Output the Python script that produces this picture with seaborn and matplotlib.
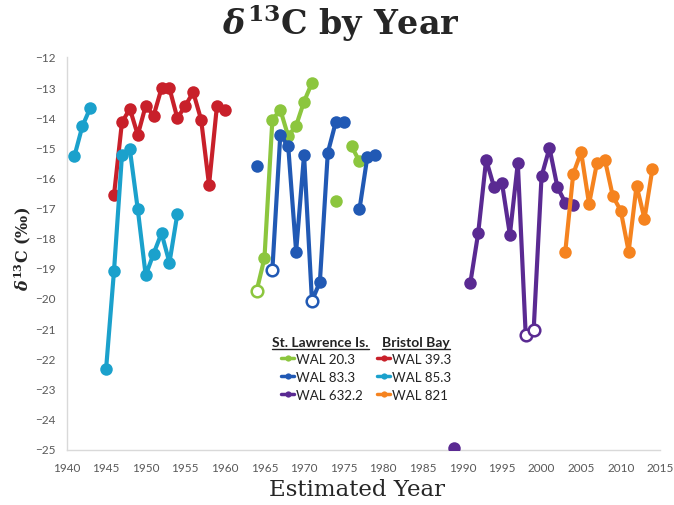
import numpy as np
import pandas as pd
import seaborn as sns
import matplotlib.pyplot as plt
from matplotlib.lines import Line2D

sns.set_theme(style="white")
plt.rcParams['font.family'] = ['Lato', 'DejaVu Sans']
plt.rcParams['mathtext.fontset'] = 'custom'
plt.rcParams['mathtext.rm'] = 'DejaVu Serif:bold'
plt.rcParams['mathtext.it'] = 'DejaVu Serif:italic:bold'
plt.rcParams['mathtext.bf'] = 'DejaVu Serif:bold'

nan = np.nan

# St. Lawrence Is.
YEARS_20_3 = list(range(1964, 1978))
D13C_20_3 = [-19.78, -18.68, -14.09, -13.75, -14.63, -14.28, -13.48, -12.86,
             nan, nan, -16.79, nan, -14.96, -15.47]
OPEN_20_3 = [1964]

YEARS_83_3 = list(range(1964, 1980))
D13C_83_3 = [-15.63, nan, -19.06, -14.59, -14.96, -18.46, -15.25, -20.10,
             -19.47, -15.18, -14.17, -14.17, nan, -17.06, -15.31, -15.27]
OPEN_83_3 = [1966, 1971]

YEARS_632_2 = list(range(1989, 2005))
D13C_632_2 = [-25.0, nan, -19.51, -17.84, -15.41, -16.32, -16.18, -17.90,
              -15.52, -21.24, -21.08, -15.96, -15.02, -16.32, -16.84, -16.93]
OPEN_632_2 = [1998, 1999]

# Bristol Bay
YEARS_39_3 = list(range(1946, 1961))
D13C_39_3 = [-16.58, -14.17, -13.72, -14.59, -13.62, -13.95, -13.04, -13.04,
             -14.03, -13.62, -13.17, -14.08, -16.25, -13.62, -13.75]
OPEN_39_3 = []

YEARS_85_3 = list(range(1941, 1955))
D13C_85_3 = [-15.29, -14.30, -13.69, nan, -22.35, -19.09, -15.27, -15.07,
             -17.06, -19.25, -18.53, -17.85, -18.83, -17.21]
OPEN_85_3 = []

YEARS_821 = list(range(2003, 2015))
D13C_821 = [-18.46, -15.88, -15.16, -16.88, -15.52, -15.41, -16.62, -17.10,
            -18.46, -16.27, -17.37, -15.72]
OPEN_821 = []

GREEN, BLUE, PURPLE = '#8cc63e', '#2159b4', '#5a2a92'
RED, CYAN, ORANGE = '#c8202a', '#1ba1cc', '#f5831f'

# drawing order (later on top)
SERIES = [
    ('WAL 39.3', YEARS_39_3, D13C_39_3, OPEN_39_3, RED),
    ('WAL 85.3', YEARS_85_3, D13C_85_3, OPEN_85_3, CYAN),
    ('WAL 20.3', YEARS_20_3, D13C_20_3, OPEN_20_3, GREEN),
    ('WAL 83.3', YEARS_83_3, D13C_83_3, OPEN_83_3, BLUE),
    ('WAL 632.2', YEARS_632_2, D13C_632_2, OPEN_632_2, PURPLE),
    ('WAL 821', YEARS_821, D13C_821, OPEN_821, ORANGE),
]

fig = plt.figure(figsize=(6.74, 5.06), dpi=100)
ax = fig.add_axes([0.0987, 0.1087, 0.881, 0.7767])

for i, (name, years, vals, opens, color) in enumerate(SERIES):
    df = pd.DataFrame({'year': years, 'd13c': vals})
    # break the line wherever a year is missing
    df['seg'] = df['d13c'].isna().cumsum()
    df = df.dropna()
    sns.lineplot(data=df, x='year', y='d13c', units='seg', estimator=None,
                 sort=False, color=color, lw=3, marker='o', markersize=9,
                 markeredgewidth=0, ax=ax, legend=False, zorder=3 + i)
    if opens:
        op = df[df['year'].isin(opens)]
        sns.scatterplot(data=op, x='year', y='d13c', color='white',
                        edgecolor=color, linewidth=1.8, s=70, ax=ax,
                        legend=False, zorder=3.5 + i)

ax.set_xlim(1940, 2015)
ax.set_ylim(-25.05, -12)
ax.set_xticks(range(1940, 2016, 5))
ax.set_yticks(range(-25, -11))
ax.set_xlabel('')
ax.set_ylabel('')
ax.tick_params(axis='both', length=0, labelsize=8.5, labelcolor='#595959')
ax.tick_params(axis='x', pad=9)
ax.tick_params(axis='y', pad=8)
for s in ['top', 'right']:
    ax.spines[s].set_visible(False)
for s in ['left', 'bottom']:
    ax.spines[s].set_color('#d9d9d9')
    ax.spines[s].set_linewidth(1)

fig.text(0.506, 0.954, r'$\delta^{13}$C by Year', fontsize=24,
         fontfamily='DejaVu Serif', fontweight='bold', ha='center', va='center')
fig.text(23 / 674, 1 - 249 / 506, r'$\delta^{13}$C (‰)', rotation=90,
         fontsize=11.5, fontfamily='DejaVu Serif', fontweight='bold',
         ha='center', va='center')
fig.text(357 / 674, 1 - 490 / 506, 'Estimated Year', fontsize=16.5,
         fontfamily='DejaVu Serif', ha='center', va='center')


# two-column legend with underlined headings
def column_legend(entries, x_px, y_px):
    handles = [Line2D([], [], color=c, lw=2.5, marker='o', markersize=4.5,
                      markeredgewidth=0) for _, c in entries]
    leg = fig.legend(handles, [n for n, _ in entries], loc='upper left',
                     bbox_to_anchor=(x_px / 674, 1 - y_px / 506),
                     frameon=False, fontsize=9.5, handlelength=1.0,
                     handletextpad=0.15, labelspacing=0.45, borderpad=0,
                     borderaxespad=0)
    for t in leg.get_texts():
        t.set_color('#222222')
    return leg


def heading(text, x_px, y_px):
    t = fig.text(x_px / 674, 1 - y_px / 506, text, fontsize=10,
                 fontweight='bold', ha='left', va='center', color='#222222')
    fig.canvas.draw()
    bb = t.get_window_extent()
    x0, x1 = bb.x0 / 674, bb.x1 / 674
    yl = 1 - (y_px + 7) / 506
    fig.add_artist(Line2D([x0, x1], [yl, yl], transform=fig.transFigure,
                          color='#222222', lw=1))


column_legend([('WAL 20.3', GREEN), ('WAL 83.3', BLUE), ('WAL 632.2', PURPLE)], 281, 354)
column_legend([('WAL 39.3', RED), ('WAL 85.3', CYAN), ('WAL 821', ORANGE)], 377, 354)
heading('St. Lawrence Is.', 272, 343)
heading('Bristol Bay', 382, 343)

fig.savefig('out.png', dpi=100)
